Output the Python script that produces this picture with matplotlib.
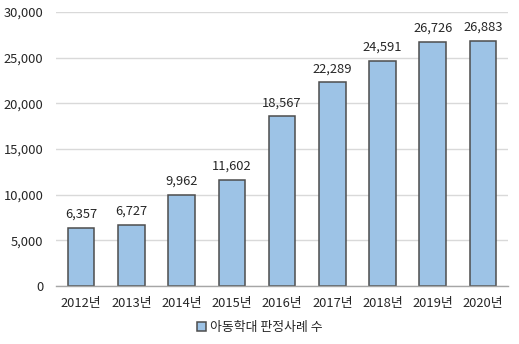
import matplotlib
matplotlib.use("Agg")
import matplotlib.pyplot as plt
import matplotlib.ticker as mticker

plt.rcParams['font.family'] = ['Noto Sans CJK KR', 'DejaVu Sans']

years = ["2012년", "2013년", "2014년", "2015년", "2016년", "2017년", "2018년", "2019년", "2020년"]
values = [6357, 6727, 9962, 11602, 18567, 22289, 24591, 26726, 26883]
series_name = "아동학대 판정사례 수"

fig = plt.figure(figsize=(5.19, 3.44), dpi=100)
ax = fig.add_axes([0.108, 0.1686, 0.871, 0.7964])

x = range(len(years))
bars = ax.bar(x, values, width=0.53, color="#9DC3E6", edgecolor="#4D4D4D",
              linewidth=1.1, label=series_name, zorder=3)

for xi, v in zip(x, values):
    ax.text(xi, v + 800, f"{v:,}", ha="center", va="bottom", fontsize=9.3, color="#262626")

ax.set_xlim(-0.5, len(years) - 0.5)
ax.set_ylim(0, 30000)
ax.set_yticks(range(0, 30001, 5000))
ax.yaxis.set_major_formatter(mticker.FuncFormatter(lambda v, p: f"{int(v):,}"))
ax.set_xticks(list(x))
ax.set_xticklabels(years)
ax.tick_params(axis="both", length=0, labelsize=9.3, colors="#262626")
ax.tick_params(axis="x", pad=8)
ax.tick_params(axis="y", pad=9)

ax.grid(axis="y", color="#D9D9D9", linewidth=1.0, zorder=0)
for s in ["top", "right", "left"]:
    ax.spines[s].set_visible(False)
ax.spines["bottom"].set_color("#A6A6A6")
ax.spines["bottom"].set_linewidth(1.0)
ax.spines["bottom"].set_zorder(4)

leg = fig.legend(handles=[bars], labels=[series_name], loc="center",
                 bbox_to_anchor=(0.5, 0.048), frameon=False, fontsize=9.3,
                 handlelength=0.7, handleheight=0.7, handletextpad=0.3)
for t in leg.get_texts():
    t.set_color("#262626")

fig.savefig("out.png", dpi=100)
